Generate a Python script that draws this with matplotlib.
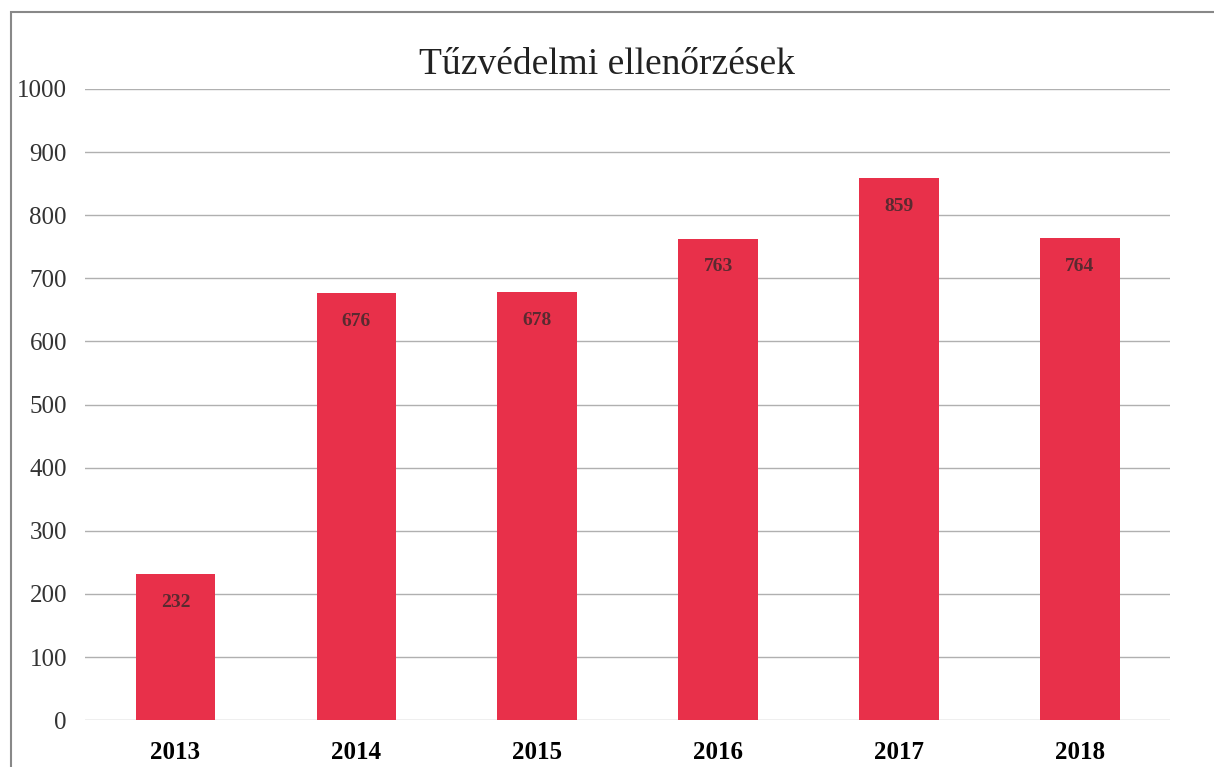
import matplotlib
matplotlib.use("Agg")
from matplotlib import pyplot as plt
from matplotlib.patches import Rectangle

years = ["2013", "2014", "2015", "2016", "2017", "2018"]
checks = [232, 676, 678, 763, 859, 764]
yticks = [0, 100, 200, 300, 400, 500, 600, 700, 800, 900, 1000]

plt.rcParams['font.family'] = ['Liberation Serif', 'DejaVu Serif']

fig = plt.figure(figsize=(12.14, 7.67), dpi=100)
ax = fig.add_axes([0.07, 0.061, 0.894, 0.823])

bars = ax.bar(years, checks, width=0.44, color="#e8304a", zorder=2)
for b, v in zip(bars, checks):
    ax.text(b.get_x() + b.get_width() / 2, v - 45, str(v), ha="center", va="center",
            fontsize=14, fontweight="bold", color="#5a2a30", zorder=3)

ax.set_ylim(0, 1000)
ax.set_xlim(-0.5, 5.5)
ax.set_yticks(yticks)
ax.yaxis.grid(True, color="#b0b0b0", linewidth=1)
ax.set_axisbelow(True)
for s in ax.spines.values():
    s.set_visible(False)
ax.tick_params(axis="y", length=0, pad=13, labelsize=18, labelcolor="#333333")
ax.tick_params(axis="x", length=0, pad=15, labelsize=18)
for lab in ax.get_xticklabels():
    lab.set_fontweight("bold")

fig.text(0.5, 0.916, "Tűzvédelmi ellenőrzések", ha="center", va="center", fontsize=27, color="#222222")

# outer frame of the scanned chart
fig.patches.append(Rectangle((0.009, -0.01), 1.0, 0.995, transform=fig.transFigure,
                             fill=False, edgecolor="#888888", linewidth=1.5))

fig.savefig("out.png", dpi=100)
